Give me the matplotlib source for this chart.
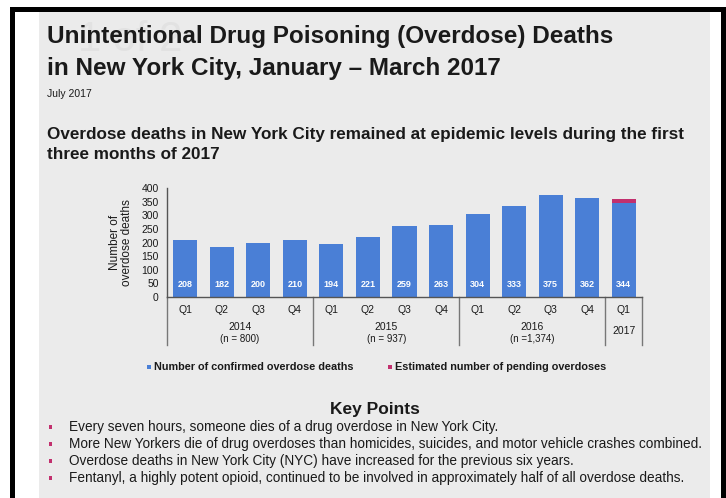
import numpy as np
import matplotlib
matplotlib.use('Agg')
import matplotlib.pyplot as plt
from matplotlib.patches import Rectangle

quarters = ['Q1', 'Q2', 'Q3', 'Q4', 'Q1', 'Q2', 'Q3', 'Q4', 'Q1', 'Q2', 'Q3', 'Q4', 'Q1']
confirmed = [208, 182, 200, 210, 194, 221, 259, 263, 304, 333, 375, 362, 344]
pending = [0, 0, 0, 0, 0, 0, 0, 0, 0, 0, 0, 0, 14]
years = ['2014', '2015', '2016', '2017']
year_n = ['(n = 800)', '(n = 937)', '(n =1,374)', '']
year_groups = [(0, 3), (4, 7), (8, 11), (12, 12)]
key_points = [
    'Every seven hours, someone dies of a drug overdose in New York City.',
    'More New Yorkers die of drug overdoses than homicides, suicides, and motor vehicle crashes combined.',
    'Overdose deaths in New York City (NYC) have increased for the previous six years.',
    'Fentanyl, a highly potent opioid, continued to be involved in approximately half of all overdose deaths.',
]

plt.rcParams['font.family'] = ['Liberation Sans', 'DejaVu Sans']

BLUE = '#4a7fd6'
PINK = '#c2306e'
GRAY = '#ebebeb'
TXT = '#1a1a1a'

W, H = 726, 498
fig = plt.figure(figsize=(W / 100, H / 100), dpi=100)
fig.patch.set_facecolor('white')


def fx(x):
    return x / W


def fy(y):
    return 1 - y / H


def box(x0, y0, x1, y1, color, z=1):
    # rectangle given in pixel coords from the top-left corner
    r = Rectangle((fx(x0), fy(y1)), fx(x1) - fx(x0), fy(y0) - fy(y1), transform=fig.transFigure,
                  facecolor=color, edgecolor='none', zorder=z)
    fig.patches.append(r)


# page background and frame
box(39, 12, 710, H, GRAY, z=-2)
box(10, 7, 15, H, 'black', z=-1)
box(721, 7, 726, H, 'black', z=-1)
box(10, 7, 726, 12, 'black', z=-1)

# ghost text behind title
fig.text(fx(78), fy(40), '1 of 2', fontsize=30, color='#e2e2e2', va='center', ha='left', zorder=-1)

fig.text(fx(47), fy(36), 'Unintentional Drug Poisoning (Overdose) Deaths', fontsize=17.5,
         fontweight='bold', color=TXT, va='center', ha='left')
fig.text(fx(47), fy(69), 'in New York City, January \u2013 March 2017', fontsize=17.5,
         fontweight='bold', color=TXT, va='center', ha='left')
fig.text(fx(47), fy(94), 'July 2017', fontsize=7.5, color=TXT, va='center', ha='left')
fig.text(fx(47), fy(134), 'Overdose deaths in New York City remained at epidemic levels during the first',
         fontsize=12.3, fontweight='bold', color=TXT, va='center', ha='left')
fig.text(fx(47), fy(154), 'three months of 2017', fontsize=12.3, fontweight='bold', color=TXT,
         va='center', ha='left')

# chart
ax = fig.add_axes([fx(167), fy(297), fx(642) - fx(167), fy(188) - fy(297)])
ax.set_facecolor('none')
x = np.arange(len(confirmed))
ax.bar(x, confirmed, width=0.66, color=BLUE, zorder=2)
ax.bar(x, pending, width=0.66, bottom=confirmed, color=PINK, zorder=2)
for xi, v in zip(x, confirmed):
    ax.text(xi, 45, str(v), ha='center', va='center', color='white', fontsize=6.5, fontweight='bold')
ax.set_xlim(-0.5, len(confirmed) - 0.5)
ax.set_ylim(0, 400)
ax.set_yticks(np.arange(0, 401, 50))
ax.tick_params(axis='y', length=0, labelsize=7.5, pad=6, colors=TXT)
ax.set_xticks(x)
ax.set_xticklabels(quarters)
ax.tick_params(axis='x', length=0, labelsize=7.5, pad=6, colors=TXT)
for s in ['top', 'right']:
    ax.spines[s].set_visible(False)
for s in ['left', 'bottom']:
    ax.spines[s].set_color('#555555')
    ax.spines[s].set_linewidth(1.0)
ax.set_ylabel('Number of\noverdose deaths', fontsize=8.5, color=TXT, labelpad=6, linespacing=0.95)

# group separators and year labels
px = 400 / 109  # data units per pixel
for b in [-0.5, 3.5, 7.5, 11.5, 12.5]:
    ax.plot([b, b], [0, -(345 - 297) * px], color='#777777', lw=1.0, clip_on=False)
for (a, b), yr, n in zip(year_groups, years, year_n):
    cx = (a + b) / 2
    if n:
        ax.text(cx, -(327 - 297) * px, yr, ha='center', va='center', fontsize=7.5, color=TXT)
        ax.text(cx, -(339 - 297) * px, n, ha='center', va='center', fontsize=7, color=TXT)
    else:
        ax.text(cx, -(331 - 297) * px, yr, ha='center', va='center', fontsize=7.5, color=TXT)

# legend
box(147, 365, 151, 369, BLUE)
fig.text(fx(154), fy(367), 'Number of confirmed overdose deaths', fontsize=7.8, fontweight='bold',
         color=TXT, va='center', ha='left')
box(388, 365, 392, 369, PINK)
fig.text(fx(395), fy(367), 'Estimated number of pending overdoses', fontsize=7.8, fontweight='bold',
         color=TXT, va='center', ha='left')

# key points
fig.text(fx(375), fy(409), 'Key Points', fontsize=12.5, fontweight='bold', color=TXT, va='center', ha='center')
for yy, t in zip([427, 444, 461, 478], key_points):
    box(49, yy - 2, 52, yy + 2, PINK)
    fig.text(fx(69), fy(yy), t, fontsize=9.8, color=TXT, va='center', ha='left')

fig.savefig('out.png', dpi=100, facecolor=fig.get_facecolor())
